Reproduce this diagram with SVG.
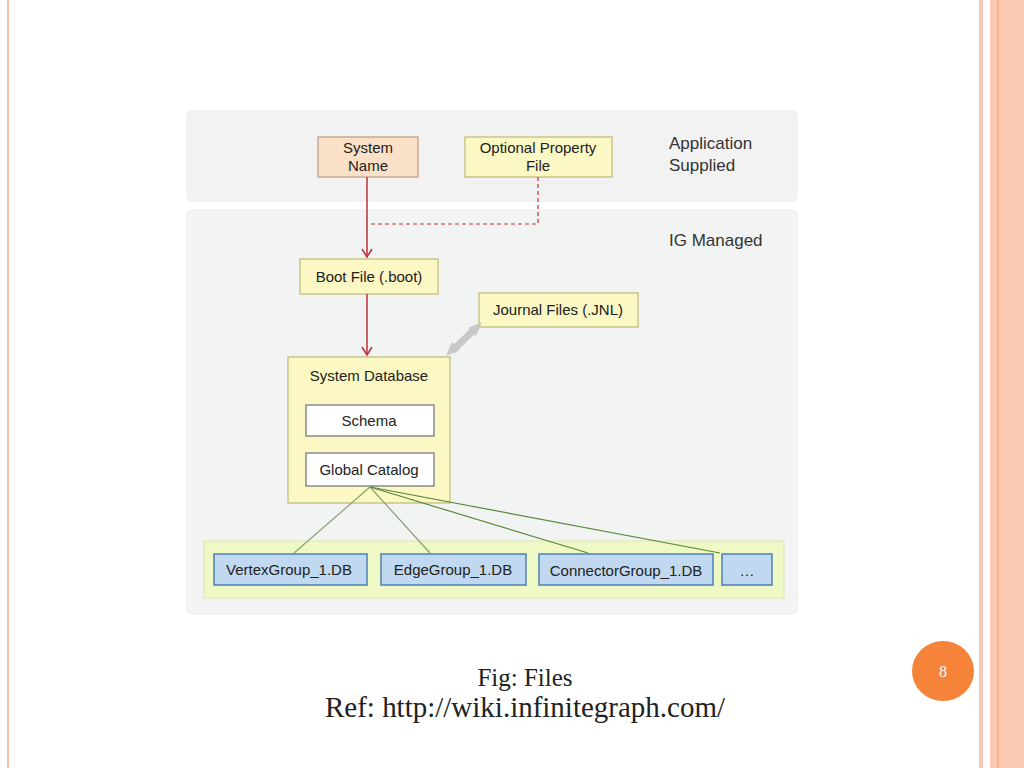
<svg xmlns="http://www.w3.org/2000/svg" width="1024" height="768" viewBox="0 0 1024 768">
<style>
.t{font-family:"Liberation Sans",Arial,sans-serif;font-size:15px;fill:#222;text-anchor:middle}
.l{font-family:"Liberation Sans",Arial,sans-serif;font-size:17px;fill:#333}
.y{fill:#fbf8c4;stroke:#c9c68a;stroke-width:1.5}
.b{fill:#c0d8f0;stroke:#4f7fb0;stroke-width:1.5}
.w{fill:#fff;stroke:#888;stroke-width:1.5}
.c{font-family:"Liberation Serif","Times New Roman",serif;font-size:25px;fill:#222;text-anchor:middle}
</style>
<defs>
<marker id="a" markerWidth="12" markerHeight="12" refX="10" refY="6" orient="auto" markerUnits="userSpaceOnUse" viewBox="0 0 12 12"><path d="M2,1 L10,6 L2,11" fill="none" stroke="#c0303a" stroke-width="1.5"/></marker>
</defs>
<rect width="1024" height="768" fill="#fff"/>
<line x1="8" y1="0" x2="8" y2="768" stroke="#f6c0a8" stroke-width="2"/>
<rect x="979" y="0" width="4" height="768" fill="#f8c8b4"/>
<rect x="990" y="0" width="34" height="768" fill="#fbc8b2"/>
<line x1="998" y1="0" x2="998" y2="768" stroke="#f09a70" stroke-width="1"/>
<rect x="186" y="110" width="612" height="92" rx="6" fill="#f2f2f2"/>
<rect x="186" y="209" width="612" height="406" rx="6" fill="#f2f3f3"/>
<rect x="204" y="541" width="580" height="57" fill="#eef9c6" stroke="#dde8b0"/>
<text class="l" x="669" y="149">Application</text>
<text class="l" x="669" y="171">Supplied</text>
<text class="l" x="669" y="246">IG Managed</text>
<g id="systemName"><rect x="318" y="137" width="100" height="40" fill="#fbe0c8" stroke="#c8a890" stroke-width="1.5"/><text class="t" x="368" y="153">System</text><text class="t" x="368" y="171">Name</text></g>
<g id="optional"><rect x="465" y="137" width="147" height="40" class="y"/><text class="t" x="538" y="153">Optional Property</text><text class="t" x="538" y="171">File</text></g>
<g id="boot"><rect x="300" y="259" width="138" height="35" class="y"/><text class="t" x="369" y="282">Boot File (.boot)</text></g>
<g id="journal"><rect x="479" y="293" width="159" height="34" class="y"/><text class="t" x="558" y="315">Journal Files (.JNL)</text></g>
<g id="sysdb"><rect x="288" y="357" width="162" height="146" class="y"/><text class="t" x="369" y="381">System Database</text>
<g id="schema"><rect x="306" y="405" width="128" height="31" class="w"/><text class="t" x="369" y="426">Schema</text></g>
<g id="catalog"><rect x="306" y="453" width="128" height="33" class="w"/><text class="t" x="369" y="475">Global Catalog</text></g></g>
<g id="vg"><rect x="214" y="554" width="153" height="31" class="b"/><text class="t" x="289" y="575">VertexGroup_1.DB</text></g>
<g id="eg"><rect x="381" y="554" width="145" height="31" class="b"/><text class="t" x="453" y="575">EdgeGroup_1.DB</text></g>
<g id="cg"><rect x="539" y="554" width="174" height="31" class="b"/><text class="t" x="626" y="576">ConnectorGroup_1.DB</text></g>
<g id="more"><rect x="722" y="554" width="50" height="31" class="b"/><text class="t" x="747" y="576">…</text></g>
<g id="connectors">
<line x1="367" y1="177" x2="367" y2="257" stroke="#c0303a" stroke-width="1.5" marker-end="url(#a)"/>
<path d="M538,177 V224 H367" fill="none" stroke="#c0303a" stroke-width="1.2" stroke-dasharray="4,3"/>
<line x1="367" y1="294" x2="367" y2="355" stroke="#c0303a" stroke-width="1.5" marker-end="url(#a)"/>
<path d="M452,351 L476,328" stroke="#c8c8c8" stroke-width="7"/>
<path d="M446,356 L452,342 L460,350 Z M482,322 L476,336 L468,328 Z" fill="#c8c8c8"/>
<g stroke="#8aa070" stroke-width="1.2" fill="none">
<line x1="370" y1="487" x2="294" y2="553"/>
<line x1="370" y1="487" x2="430" y2="553"/>
<line x1="370" y1="487" x2="588" y2="553" stroke="#5a8a3a"/>
<line x1="370" y1="487" x2="720" y2="553" stroke="#5a8a3a"/>
</g>
</g>
<text class="c" x="525" y="686" style="font-size:25px">Fig: Files</text>
<text class="c" x="525" y="717" style="font-size:28.5px" textLength="400" lengthAdjust="spacingAndGlyphs">Ref: http://wiki.infinitegraph.com/</text>
<ellipse cx="943" cy="671" rx="31" ry="30" fill="#f5843a"/>
<text x="943" y="677" font-family="Liberation Serif,serif" font-size="16" fill="#fff" text-anchor="middle">8</text>
</svg>
